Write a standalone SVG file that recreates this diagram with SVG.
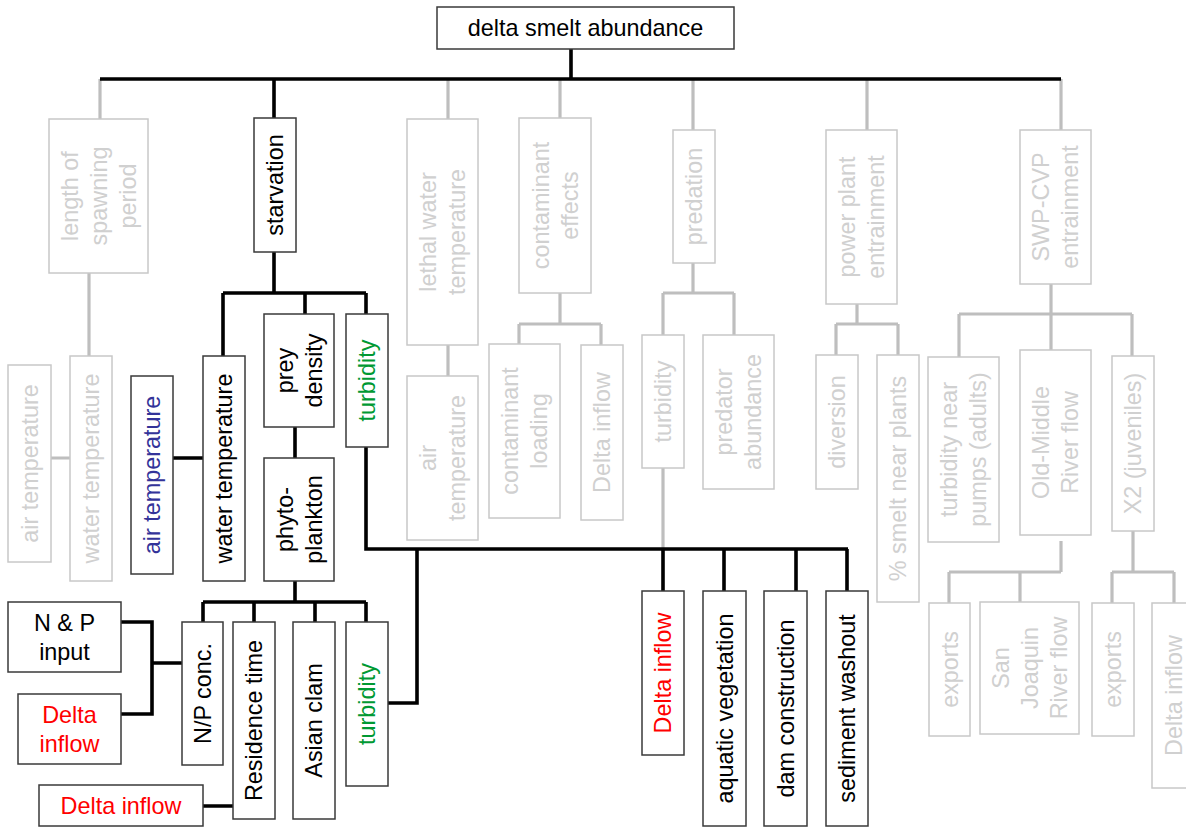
<svg xmlns="http://www.w3.org/2000/svg" width="1186" height="827" viewBox="0 0 1186 827">
<style>
.nb{fill:#fff;stroke:#3a3a3a;stroke-width:1.5}
.ng{fill:#fff;stroke:#c8c8c8;stroke-width:1.5}
text{font-family:"Liberation Sans",Arial,sans-serif;font-size:23.4px;text-anchor:middle;fill:#000}
.g text{fill:#d0d0d0}
text.red{fill:#ff0000}
text.blue{fill:#333399}
text.green{fill:#009933}
.cb{fill:none;stroke:#000;stroke-width:3.6}
.cg{fill:none;stroke:#bebebe;stroke-width:3.2}
</style>
<rect width="1186" height="827" fill="#fff"/>
<g id="connectors">
<path class="cg" d="M100,79V119 M89,273V356 M51,458H70 M448,79V119 M448,345V376 M560,79V118 M560,293V324 M519,324H601 M519,324V344 M601,324V345 M693,79V130 M693,263V293 M663,293H734 M663,293V335 M734,293V335 M663,468V549 M867,79V130 M857,304V324 M836,324H898 M836,324V355 M898,324V355 M1061,79V130 M1051,284V350 M959,314H1132 M959,314V357 M1132,314V356 M1061,541V572 M949,572H1061 M949,572V603 M1020,572V602 M1133,531V572 M1112,572H1174 M1112,572V603 M1174,572V603"/>
<path class="cb" d="M571,49V79 M100,79H1061 M274,79V118 M274,252V293 M223,293H366 M223,293V356 M305,293V314 M366,293V314 M173,458H203 M295,427V458 M295,581V602 M203,602H366 M203,602V622 M254,602V622 M315,602V622 M366,602V622 M121,622H152V714H121 M152,663H182 M203,806H233 M366,447V549H848 M417,549V703H388 M663,549V591 M724,549V591 M796,549V591 M847,549V591"/>
</g>
<g id="n-top"><rect class="nb" x="437" y="7" width="297" height="42"/><text x="585.5" y="36">delta smelt abundance</text></g>
<g id="n-length" class="g"><rect class="ng" x="49" y="119" width="99" height="154"/><g transform="translate(98.5 196) rotate(-90)"><text y="-21">length of</text><text y="8">spawning</text><text y="37">period</text></g></g>
<g id="n-starvation"><rect class="nb" x="254" y="118" width="42" height="134"/><text transform="translate(275 185) rotate(-90)" y="8">starvation</text></g>
<g id="n-lethal" class="g"><rect class="ng" x="407" y="119" width="71" height="226"/><g transform="translate(442.5 232) rotate(-90)"><text y="-6.5">lethal water</text><text y="22.5">temperature</text></g></g>
<g id="n-contam" class="g"><rect class="ng" x="519" y="118" width="72" height="175"/><g transform="translate(555 205.5) rotate(-90)"><text y="-6.5">contaminant</text><text y="22.5">effects</text></g></g>
<g id="n-predation" class="g"><rect class="ng" x="673" y="130" width="42" height="133"/><text transform="translate(694 196.5) rotate(-90)" y="8">predation</text></g>
<g id="n-power" class="g"><rect class="ng" x="826" y="130" width="71" height="174"/><g transform="translate(861.5 217) rotate(-90)"><text y="-6.5">power plant</text><text y="22.5">entrainment</text></g></g>
<g id="n-swp" class="g"><rect class="ng" x="1020" y="130" width="71" height="154"/><g transform="translate(1055.5 207) rotate(-90)"><text y="-6.5">SWP-CVP</text><text y="22.5">entrainment</text></g></g>
<g id="n-airtemp-g1" class="g"><rect class="ng" x="8" y="365" width="43" height="197"/><text transform="translate(29.5 463.5) rotate(-90)" y="8">air temperature</text></g>
<g id="n-watertemp-g" class="g"><rect class="ng" x="70" y="356" width="42" height="225"/><text transform="translate(91 468.5) rotate(-90)" y="8">water temperature</text></g>
<g id="n-airtemp"><rect class="nb" x="131" y="376" width="42" height="198"/><text class="blue" transform="translate(152 475) rotate(-90)" y="8">air temperature</text></g>
<g id="n-watertemp"><rect class="nb" x="203" y="356" width="42" height="225"/><text transform="translate(224 468.5) rotate(-90)" y="8">water temperature</text></g>
<g id="n-prey"><rect class="nb" x="264" y="314" width="70" height="113"/><g transform="translate(299 370.5) rotate(-90)"><text y="-6.5">prey</text><text y="22.5">density</text></g></g>
<g id="n-turb1"><rect class="nb" x="346" y="314" width="42" height="133"/><text class="green" transform="translate(367 380.5) rotate(-90)" y="8">turbidity</text></g>
<g id="n-phyto"><rect class="nb" x="264" y="458" width="70" height="123"/><g transform="translate(299 519.5) rotate(-90)"><text y="-6.5">phyto-</text><text y="22.5">plankton</text></g></g>
<g id="n-airtemp-g2" class="g"><rect class="ng" x="407" y="376" width="71" height="164"/><g transform="translate(442.5 458) rotate(-90)"><text y="-6.5">air</text><text y="22.5">temperature</text></g></g>
<g id="n-contload" class="g"><rect class="ng" x="489" y="344" width="71" height="174"/><g transform="translate(524.5 431) rotate(-90)"><text y="-6.5">contaminant</text><text y="22.5">loading</text></g></g>
<g id="n-deltainflow-g1" class="g"><rect class="ng" x="581" y="345" width="42" height="175"/><text transform="translate(602 432.5) rotate(-90)" y="8">Delta inflow</text></g>
<g id="n-turb-g" class="g"><rect class="ng" x="642" y="335" width="42" height="133"/><text transform="translate(663 401.5) rotate(-90)" y="8">turbidity</text></g>
<g id="n-predator" class="g"><rect class="ng" x="703" y="335" width="71" height="154"/><g transform="translate(738.5 412) rotate(-90)"><text y="-6.5">predator</text><text y="22.5">abundance</text></g></g>
<g id="n-diversion" class="g"><rect class="ng" x="816" y="355" width="42" height="134"/><text transform="translate(837 422) rotate(-90)" y="8">diversion</text></g>
<g id="n-smelt" class="g"><rect class="ng" x="877" y="355" width="42" height="247"/><text transform="translate(898 478.5) rotate(-90)" y="8">% smelt near plants</text></g>
<g id="n-turbpumps" class="g"><rect class="ng" x="928" y="357" width="71" height="185"/><g transform="translate(963.5 449.5) rotate(-90)"><text y="-6.5">turbidity near</text><text y="22.5">pumps (adults)</text></g></g>
<g id="n-omr" class="g"><rect class="ng" x="1020" y="350" width="71" height="185"/><g transform="translate(1055.5 442.5) rotate(-90)"><text y="-6.5">Old-Middle</text><text y="22.5">River flow</text></g></g>
<g id="n-x2" class="g"><rect class="ng" x="1112" y="356" width="42" height="175"/><text transform="translate(1133 443.5) rotate(-90)" y="8">X2 (juveniles)</text></g>
<g id="n-exports1" class="g"><rect class="ng" x="929" y="603" width="41" height="133"/><text transform="translate(949.5 669.5) rotate(-90)" y="8">exports</text></g>
<g id="n-sjr" class="g"><rect class="ng" x="980" y="602" width="99" height="132"/><g transform="translate(1029.5 668) rotate(-90)"><text y="-21">San</text><text y="8">Joaquin</text><text y="37">River flow</text></g></g>
<g id="n-exports2" class="g"><rect class="ng" x="1092" y="603" width="42" height="133"/><text transform="translate(1113 669.5) rotate(-90)" y="8">exports</text></g>
<g id="n-deltainflow-g2" class="g"><rect class="ng" x="1152" y="603" width="44" height="185"/><text transform="translate(1174 695.5) rotate(-90)" y="8">Delta inflow</text></g>
<g id="n-np"><rect class="nb" x="8" y="602" width="113" height="70"/><text x="64.5" y="630.5">N &amp; P</text><text x="64.5" y="659.5">input</text></g>
<g id="n-deltainflow-r1"><rect class="nb" x="18" y="694" width="103" height="70"/><text class="red" x="69.5" y="722.5">Delta</text><text class="red" x="69.5" y="751.5">inflow</text></g>
<g id="n-deltainflow-r2"><rect class="nb" x="39" y="785" width="164" height="41"/><text class="red" x="121" y="814">Delta inflow</text></g>
<g id="n-npconc"><rect class="nb" x="182" y="622" width="41" height="143"/><text transform="translate(202.5 693.5) rotate(-90)" y="8">N/P conc.</text></g>
<g id="n-residence"><rect class="nb" x="233" y="622" width="42" height="197"/><text transform="translate(254 720.5) rotate(-90)" y="8">Residence time</text></g>
<g id="n-clam"><rect class="nb" x="293" y="622" width="42" height="197"/><text transform="translate(314 720.5) rotate(-90)" y="8">Asian clam</text></g>
<g id="n-turb2"><rect class="nb" x="346" y="622" width="42" height="164"/><text class="green" transform="translate(367 704) rotate(-90)" y="8">turbidity</text></g>
<g id="n-deltainflow-r3"><rect class="nb" x="642" y="591" width="42" height="164"/><text class="red" transform="translate(663 673) rotate(-90)" y="8">Delta inflow</text></g>
<g id="n-aquatic"><rect class="nb" x="703" y="591" width="43" height="235"/><text transform="translate(724.5 708.5) rotate(-90)" y="8">aquatic vegetation</text></g>
<g id="n-dam"><rect class="nb" x="764" y="591" width="43" height="235"/><text transform="translate(785.5 708.5) rotate(-90)" y="8">dam construction</text></g>
<g id="n-sediment"><rect class="nb" x="826" y="591" width="42" height="235"/><text transform="translate(847 708.5) rotate(-90)" y="8">sediment washout</text></g>
</svg>
